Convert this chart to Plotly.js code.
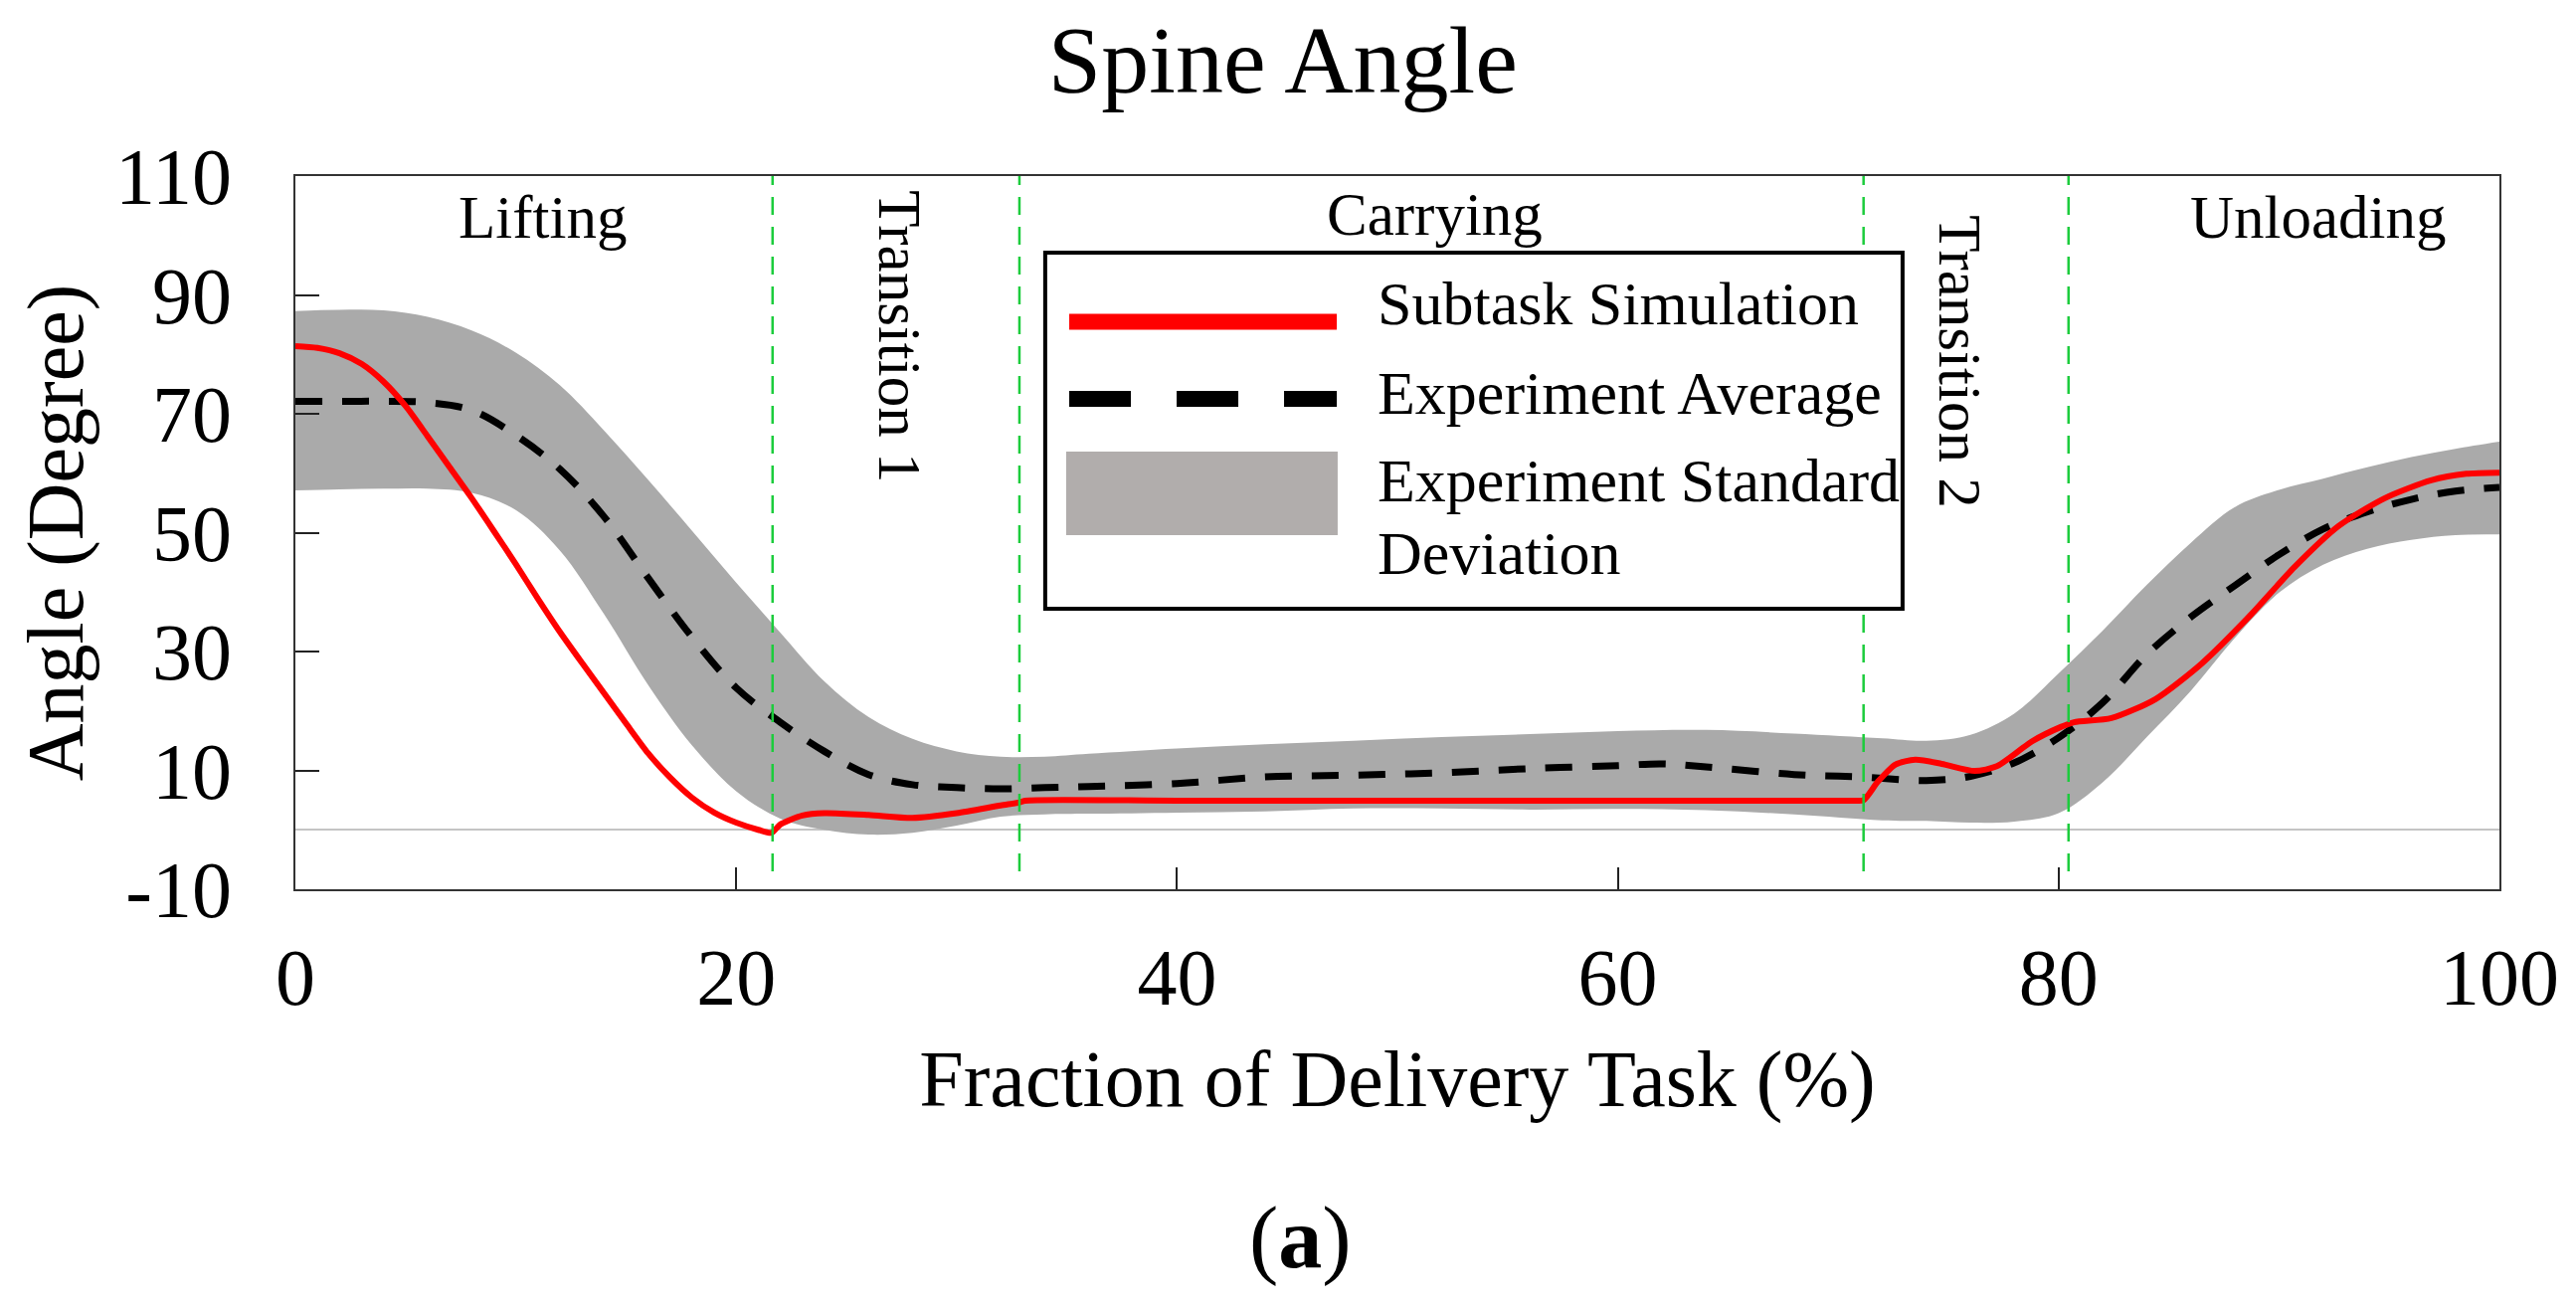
<!DOCTYPE html>
<html>
<head>
<meta charset="utf-8">
<script src="https://cdn.plot.ly/plotly-3.0.1.min.js"></script>
<style>html,body{margin:0;padding:0;background:#fff;}#chart{width:2590px;height:1317px;}</style>
</head>
<body>
<div id="chart"></div>
<script>
// ---------- data ----------
const bandX = [0,2,4,6,8,10,12,14,16,18,20,22,24,26,28,30,32,34,36,40,44,48,52,56,60,64,68,72,74,76,78,80,82,84,86,88,90,92,94,96,98,100];
const bandUpper = [87.3,87.5,87.4,86.3,84.0,80.3,74.8,67.2,58.9,50.3,41.6,33.2,25.0,19.0,15.3,13.2,12.3,12.3,12.8,13.7,14.4,15.0,15.6,16.1,16.6,16.8,16.2,15.4,15.0,16.0,19.6,26.3,33.5,41.2,48.3,54.3,57.2,59.1,61.0,62.7,64.1,65.3];
const bandLower = [57.1,57.3,57.4,57.4,56.7,53.8,47.0,36.3,24.4,14.2,6.5,1.9,0.0,-0.8,-0.5,0.7,2.2,2.6,2.7,2.9,3.1,3.6,3.6,3.4,3.5,3.3,2.6,1.6,1.5,1.2,1.4,2.8,8.0,15.6,23.4,32.3,39.9,44.6,47.3,48.8,49.6,49.7];

const avgX = [0,2,4,6,8,10,12,14,16,18,20,22,24,26,28,30,32,34,36,40,44,48,52,56,60,62,64,68,71,74,76,78,80,82,84,86,88,90,92,94,96,98,100];
const avgY = [72.1,72.1,72.1,71.9,70.6,66.4,60.7,52.7,42.4,32.4,23.9,18.1,13.2,9.3,7.6,7.1,6.9,7.1,7.3,7.8,8.9,9.2,9.6,10.3,10.8,11.1,10.6,9.3,8.9,8.3,9.0,11.3,15.5,21.4,29.5,35.8,41.1,46.3,50.6,53.5,55.6,57.0,57.6];

const simX = [0,1,2,3,4,5,6,7,8,9,10,11,12,13,14,15,16,17,18,19,20,21,21.6,22,23,24,26,28,30,32,32.85,33.1,40,50,60,70,70.8,71.15,71.8,72.6,73.5,74.7,76.2,77.2,78.8,80.1,80.7,82.4,84.4,86.5,88.6,90.7,92.7,94.8,96.9,98.5,100];
const simY = [81.4,81.1,80.2,78.4,75.4,71.3,66.2,61.0,55.8,50.3,44.7,38.9,33.3,28.1,23.0,17.9,12.9,8.8,5.4,2.9,1.2,0.0,-0.5,0.9,2.4,2.8,2.5,2.0,2.8,4.1,4.6,4.9,4.9,4.9,4.9,4.9,4.9,5.0,8.1,11.0,11.8,11.1,9.9,10.7,14.9,17.3,18.1,18.8,22.0,28.0,35.7,44.2,51.1,55.8,58.8,59.9,60.1];

const phaseBounds = [21.65, 32.85, 71.15, 80.45];
const phaseNames = ["Lifting", "Transition 1", "Carrying", "Transition 2", "Unloading"];
const phaseLabelX = [11.2, 27.4, 51.7, 75.5, 91.8];
const phaseLabelY = [103.0, 83.0, 103.6, 78.8, 103.0];
const phaseLabelAngle = [0, 90, 0, 90, 0];

const seriesNames = ["Subtask Simulation", "Experiment Average", "Experiment Standard", "Deviation"];

const yTicks = [-10, 10, 30, 50, 70, 90, 110];
const yTickText = ["-10", "10", "30", "50", "70", "90", "110"];
const xTicks = [0, 20, 40, 60, 80, 100];

// ---------- styling ----------
const FONT = "Liberation Serif, Times New Roman, serif";
const RED = "#ff0000";
const BAND = "#aaaaaa";
const LEGEND_BAND = "#b1adac";
const GREEN = "#1ccc3c";

const traces = [
  {x: bandX, y: bandLower, type: "scatter", mode: "lines", line: {width: 0, color: BAND, shape: "spline", smoothing: 1},
   showlegend: false, hoverinfo: "skip", name: "Experiment Standard Deviation (lower)"},
  {x: bandX, y: bandUpper, type: "scatter", mode: "lines", fill: "tonexty", fillcolor: BAND,
   line: {width: 0, color: BAND, shape: "spline", smoothing: 1}, showlegend: false, name: "Experiment Standard Deviation"},
  {x: avgX, y: avgY, type: "scatter", mode: "lines", name: "Experiment Average",
   line: {color: "#000000", width: 7, dash: "27px,20px", shape: "spline", smoothing: 1}, showlegend: false},
  {x: simX, y: simY, type: "scatter", mode: "lines", name: "Subtask Simulation",
   line: {color: RED, width: 6, shape: "spline", smoothing: 0.7}, showlegend: false}
];

const shapes = [];
phaseBounds.forEach(b => shapes.push({type: "line", xref: "x", yref: "y", x0: b, x1: b, y0: -7, y1: 110,
  line: {color: GREEN, width: 2.5, dash: "18px,12px"}, layer: "above"}));

// custom legend (paper coordinates)
const lg = {x0: 0.3402, x1: 0.7292, y0: 0.3933, y1: 0.8926, sx0: 0.3511, sx1: 0.4725, tx: 0.4901};
shapes.push({type: "rect", xref: "paper", yref: "paper", x0: lg.x0, x1: lg.x1, y0: lg.y0, y1: lg.y1,
  line: {color: "#000", width: 4}, fillcolor: "#ffffff", layer: "above"});
shapes.push({type: "line", xref: "paper", yref: "paper", x0: lg.sx0, x1: lg.sx1, y0: 0.7957, y1: 0.7957,
  line: {color: RED, width: 16}, layer: "above"});
shapes.push({type: "line", xref: "paper", yref: "paper", x0: lg.sx0, x1: lg.sx1, y0: 0.6876, y1: 0.6876,
  line: {color: "#000", width: 16, dash: "62px,46px"}, layer: "above"});
shapes.push({type: "rect", xref: "paper", yref: "paper", x0: 0.3497, x1: 0.4729, y0: 0.4965, y1: 0.6137,
  line: {width: 0}, fillcolor: LEGEND_BAND, layer: "above"});

const annotations = [];
phaseNames.forEach((t, i) => annotations.push({text: t, x: phaseLabelX[i], y: phaseLabelY[i], xref: "x", yref: "y",
  showarrow: false, textangle: phaseLabelAngle[i], xanchor: "center", yanchor: "middle",
  font: {family: FONT, size: 61, color: "#000"}}));
const legendTextY = [0.8215, 0.6960, 0.5739, 0.4721];
seriesNames.forEach((t, i) => annotations.push({text: t, x: lg.tx, y: legendTextY[i], xref: "paper", yref: "paper",
  showarrow: false, xanchor: "left", yanchor: "middle", font: {family: FONT, size: 62, color: "#000"}}));
annotations.push({text: "(<b>a</b>)", x: 0.4562, y: -0.4895, xref: "paper", yref: "paper", showarrow: false,
  xanchor: "center", yanchor: "middle", font: {family: FONT, size: 88, color: "#000"}});

const layout = {
  width: 2590, height: 1317,
  margin: {l: 297, r: 77, t: 177, b: 423},
  paper_bgcolor: "#ffffff", plot_bgcolor: "#ffffff",
  font: {family: FONT, color: "#000"},
  title: {text: "Spine Angle", x: 0.498, xanchor: "center", y: 0.955, yanchor: "middle",
          font: {family: FONT, size: 96, color: "#000"}},
  xaxis: {range: [0, 100], tickvals: xTicks, ticks: "inside", ticklen: 22, tickwidth: 2, tickcolor: "#222",
          showgrid: false, zeroline: false, showline: true, linecolor: "#333", linewidth: 2, mirror: true,
          ticklabelstandoff: 18, tickfont: {family: FONT, size: 80, color: "#000"},
          title: {text: "Fraction of Delivery Task (%)", standoff: 30, font: {family: FONT, size: 80, color: "#000"}}},
  yaxis: {range: [-10, 110], tickvals: yTicks, ticktext: yTickText, ticks: "inside", ticklen: 24, tickwidth: 2, tickcolor: "#222",
          showgrid: false, zeroline: true, zerolinecolor: "#c4c4c4", zerolinewidth: 2,
          showline: true, linecolor: "#333", linewidth: 2, mirror: true,
          ticklabelstandoff: 46, tickfont: {family: FONT, size: 80, color: "#000"},
          title: {text: "Angle (Degree)", standoff: 6, font: {family: FONT, size: 80, color: "#000"}}},
  shapes: shapes,
  annotations: annotations,
  showlegend: false
};

Plotly.newPlot("chart", traces, layout, {displayModeBar: false, staticPlot: true});
</script>
</body>
</html>
